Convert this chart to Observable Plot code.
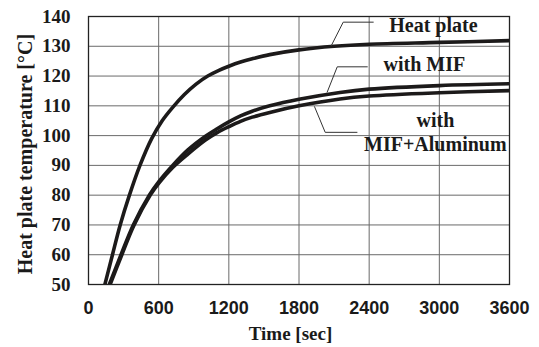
<!DOCTYPE html>
<html>
<head>
<meta charset="utf-8">
<script src="https://cdn.jsdelivr.net/npm/d3@7"></script>
<script src="https://cdn.jsdelivr.net/npm/@observablehq/plot@0.6"></script>
<style>
html, body { margin: 0; padding: 0; background: #fff; }
#chart svg { display: block; }
g[aria-label="x-axis tick label"] text { font-family: "Liberation Sans", Arial, sans-serif; font-weight: bold; font-size: 18px; }
g[aria-label="y-axis tick label"] text { font-family: "Liberation Serif", "Times New Roman", serif; font-weight: bold; font-size: 19px; }
</style>
</head>
<body>
<div id="chart"></div>
<script>
// Axis ticks
const xTicks = [0, 600, 1200, 1800, 2400, 3000, 3600];
const yTicks = [50, 60, 70, 80, 90, 100, 110, 120, 130, 140];

// Series: Heat plate
const heatTime = [140, 205, 271, 350, 440, 540, 630, 720, 820, 920, 1020, 1120, 1200, 1300, 1400, 1550, 1800, 2100, 2400, 3000, 3600];
const heatTemp = [50, 60, 70, 80, 90, 99, 105, 109.5, 113.8, 117.3, 120, 122, 123.3, 124.7, 125.8, 127.2, 128.8, 130.0, 130.7, 131.3, 131.9];

// Series: with MIF
const mifTime = [178, 278, 383, 520, 600, 720, 850, 1000, 1100, 1200, 1300, 1400, 1550, 1800, 2150, 2400, 3000, 3600];
const mifTemp = [50, 60, 70, 80, 84.5, 90, 95.2, 99.8, 102.3, 104.6, 106.6, 108.2, 110.0, 112.2, 114.5, 115.6, 116.8, 117.4];

// Series: with MIF+Aluminum
const aluTime = [185, 285, 390, 528, 600, 720, 850, 1000, 1100, 1200, 1300, 1400, 1550, 1800, 2150, 2400, 3000, 3600];
const aluTemp = [50, 60, 70, 80, 84, 89.3, 93.8, 98.5, 101, 103, 104.8, 106.2, 107.8, 110.0, 112.3, 113.3, 114.4, 115.1];

// Annotation labels
const labels = ["Heat plate", "with MIF", "with", "MIF+Aluminum"];
const labelTime = [2949, 2872, 2966, 2966];
const labelTemp = [137.0, 123.8, 105.2, 97.1];

// Leader lines
const leaderHeatT = [2435, 2178, 2076];
const leaderHeatV = [138.1, 138.1, 130.2];
const leaderMifT = [2384, 2127, 2041];
const leaderMifV = [123.1, 123.1, 114.6];
const leaderAluT = [1933, 2024, 2296];
const leaderAluV = [109.7, 101.1, 101.1];

// Axis titles
const xTitle = ["Time [sec]"];
const xTitleTime = [1727];
const yTitle = ["Heat plate temperature [°C]"];
const yTitleTemp = [93.8];

const serif = '"Liberation Serif", "Times New Roman", serif';
const sans = '"Liberation Sans", Arial, sans-serif';
const curveColor = "#1c1a1a";

const chart = Plot.plot({
  width: 539,
  height: 347,
  marginLeft: 88,
  marginRight: 30,
  marginTop: 16,
  marginBottom: 63,
  style: { background: "#fff", fontFamily: serif },
  x: { domain: [0, 3600] },
  y: { domain: [50, 140] },
  marks: [
    Plot.gridX(xTicks, { stroke: "#6a6a6a", strokeOpacity: 1, strokeWidth: 1 }),
    Plot.gridY(yTicks, { stroke: "#6a6a6a", strokeOpacity: 1, strokeWidth: 1 }),
    Plot.frame({ stroke: "#222", strokeWidth: 1.3 }),
    Plot.axisX(xTicks, { tickSize: 0, tickPadding: 17, label: null, tickFormat: d3.format("d"),
      fontFamily: sans, fontWeight: "bold", fontSize: 18, fill: "#1a1a1a" }),
    Plot.axisY(yTicks, { tickSize: 0, tickPadding: 18, label: null, tickFormat: d3.format("d"),
      fontFamily: serif, fontWeight: "bold", fontSize: 19, fill: "#1a1a1a" }),
    Plot.line(heatTime, { x: heatTime, y: heatTemp, stroke: curveColor, strokeWidth: 3.6, curve: "catmull-rom", clip: "frame" }),
    Plot.line(mifTime, { x: mifTime, y: mifTemp, stroke: curveColor, strokeWidth: 3.6, curve: "catmull-rom", clip: "frame" }),
    Plot.line(aluTime, { x: aluTime, y: aluTemp, stroke: curveColor, strokeWidth: 3.6, curve: "catmull-rom", clip: "frame" }),
    Plot.line(leaderHeatT, { x: leaderHeatT, y: leaderHeatV, stroke: "#333", strokeWidth: 1 }),
    Plot.line(leaderMifT, { x: leaderMifT, y: leaderMifV, stroke: "#333", strokeWidth: 1 }),
    Plot.line(leaderAluT, { x: leaderAluT, y: leaderAluV, stroke: "#333", strokeWidth: 1 }),
    Plot.text(labels, { x: labelTime, y: labelTemp, text: labels, fontFamily: serif, fontWeight: "bold", fontSize: 20, fill: "#1a1a1a", textAnchor: "middle", lineAnchor: "middle" }),
    Plot.text(xTitle, { x: xTitleTime, frameAnchor: "bottom", dy: 49, text: xTitle, fontFamily: serif, fontWeight: "bold", fontSize: 19, fill: "#1a1a1a", textAnchor: "middle", lineAnchor: "middle" }),
    Plot.text(yTitle, { y: yTitleTemp, frameAnchor: "left", dx: -63, rotate: -90, text: yTitle, fontFamily: serif, fontWeight: "bold", fontSize: 20, fill: "#1a1a1a", textAnchor: "middle", lineAnchor: "middle" })
  ]
});
document.getElementById("chart").appendChild(chart);
</script>
</body>
</html>
